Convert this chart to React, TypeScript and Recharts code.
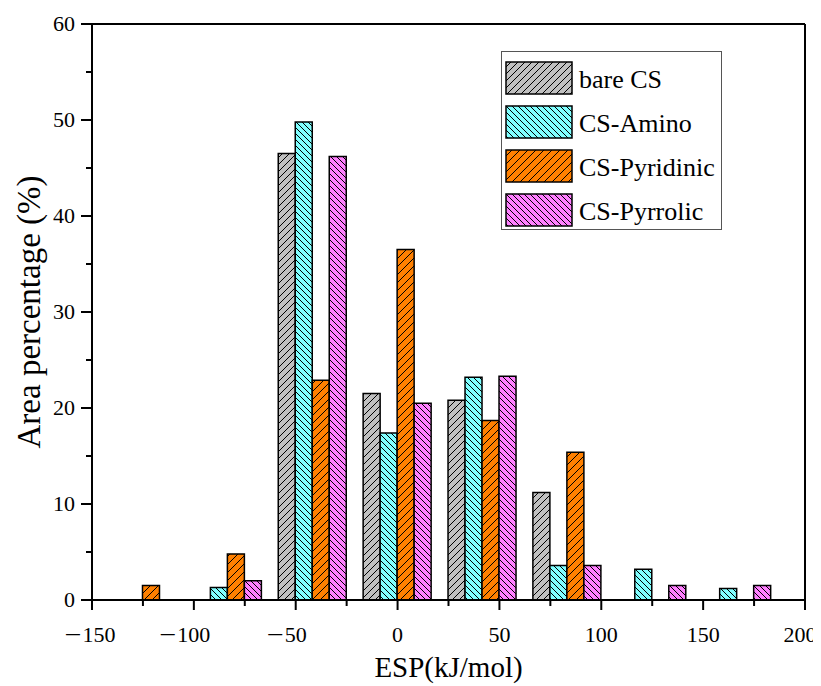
import React from 'react';
import { BarChart, Bar, XAxis, YAxis, ReferenceLine } from 'recharts';

// ESP bin centres (kJ/mol)
const espBins = [-125, -83.33, -41.67, 0, 41.67, 83.33, 125, 166.67];
// Area percentage (%) per series
const bareCS = [0, 0, 46.5, 21.5, 20.8, 11.2, 0, 0];
const csAmino = [0, 1.3, 49.8, 17.4, 23.2, 3.6, 3.2, 1.2];
const csPyridinic = [1.5, 4.8, 22.9, 36.5, 18.7, 15.4, 0, 0];
const csPyrrolic = [0, 2.0, 46.2, 20.5, 23.3, 3.6, 1.5, 1.5];

const seriesNames = ['bare CS', 'CS-Amino', 'CS-Pyridinic', 'CS-Pyrrolic'];
const xTicks = [-150, -125, -100, -75, -50, -25, 0, 25, 50, 75, 100, 125, 150, 175, 200];
const yTicks = [0, 5, 10, 15, 20, 25, 30, 35, 40, 45, 50, 55, 60];

const data = espBins.map((esp, i) => ({
  esp,
  bare: bareCS[i],
  amino: csAmino[i],
  pyridinic: csPyridinic[i],
  pyrrolic: csPyrrolic[i],
}));

const FONT = '"Liberation Serif", "Times New Roman", serif';

const series = [
  { key: 'bare', name: seriesNames[0], fill: '#c0c0c0', pat: 'patGray', dir: 'f', s: 7 },
  { key: 'amino', name: seriesNames[1], fill: '#80ffff', pat: 'patCyan', dir: 'b', s: 6 },
  { key: 'pyridinic', name: seriesNames[2], fill: '#ff8000', pat: 'patOrange', dir: 'f', s: 8 },
  { key: 'pyrrolic', name: seriesNames[3], fill: '#ff80ff', pat: 'patPink', dir: 'b', s: 6 },
];

const XTick = (props: any) => {
  const { x, y, payload } = props;
  const v = payload.value;
  const major = v % 50 === 0;
  const digits = String(Math.abs(v));
  const w = digits.length * 11;
  const cx = v === 200 ? x - 5 : v === -150 ? x + 7 : x;
  return (
    <g>
      <line x1={x} x2={x} y1={y} y2={y + (major ? 10 : 6)} stroke="#000" strokeWidth={2} />
      {major && (
        <text x={cx} y={y + 42} textAnchor="middle" fontSize={22} fontFamily={FONT} fill="#000">
          {digits}
        </text>
      )}
      {major && v < 0 && (
        <text
          x={cx - w / 2 - 18}
          y={y + 42}
          textLength={17}
          lengthAdjust="spacingAndGlyphs"
          fontSize={22}
          fontFamily={FONT}
          fill="#000"
        >
          {'\u2212'}
        </text>
      )}
    </g>
  );
};

const YTick = (props: any) => {
  const { x, y, payload } = props;
  const v = payload.value;
  const major = v % 10 === 0;
  return (
    <g>
      <line x1={x - (major ? 11 : 6)} x2={x} y1={y} y2={y} stroke="#000" strokeWidth={2} />
      {major && (
        <text x={x - 17} y={y + 7} textAnchor="end" fontSize={22} fontFamily={FONT} fill="#000">
          {String(v)}
        </text>
      )}
    </g>
  );
};

const Pattern = ({ id, fill, dir, s }: any) => {
  const d =
    dir === 'f'
      ? `M-1,1 l2,-2 M0,${s} l${s},${-s} M${s - 1},${s + 1} l2,-2`
      : `M-1,${s - 1} l2,2 M0,0 l${s},${s} M${s - 1},-1 l2,2`;
  return (
    <pattern id={id} patternUnits="userSpaceOnUse" width={s} height={s}>
      <rect x={0} y={0} width={s} height={s} fill={fill} />
      <path d={d} stroke="#000" strokeWidth={1} />
    </pattern>
  );
};

const LegendBox = () => (
  <div
    style={{
      position: 'absolute',
      left: 493,
      top: 43,
      width: 221,
      height: 179,
      boxSizing: 'border-box',
      border: '1.5px solid #555',
      background: '#fff',
    }}
  >
    {series.map((s, i) => (
      <div
        key={s.key}
        style={{
          position: 'absolute',
          left: 3,
          top: 9 + i * 44,
          height: 34,
          display: 'flex',
          alignItems: 'center',
        }}
      >
        <svg width={68} height={34} style={{ display: 'block' }}>
          <rect x={1} y={1} width={66} height={32} fill={`url(#${s.pat})`} stroke="#000" strokeWidth={1.5} />
        </svg>
        <span
          style={{
            marginLeft: 6,
            fontFamily: FONT,
            fontSize: 26,
            color: '#000',
            whiteSpace: 'nowrap',
            lineHeight: '34px',
            position: 'relative',
            top: 2,
          }}
        >
          {s.name}
        </span>
      </div>
    ))}
  </div>
);

export default function App() {
  return (
    <div style={{ position: 'relative', width: 813, height: 678, background: '#fff' }}>
      <BarChart
        width={813}
        height={678}
        data={data}
        margin={{ top: 16, right: 16, left: 0, bottom: 0 }}
        barGap={0}
        barSize={17}
      >
        <defs>
          {series.map((s) => (
            <Pattern key={s.pat} id={s.pat} fill={s.fill} dir={s.dir} s={s.s} />
          ))}
        </defs>
        <XAxis
          dataKey="esp"
          type="number"
          domain={[-150, 200]}
          ticks={xTicks}
          interval={0}
          height={86}
          tickSize={0}
          tickMargin={0}
          tickLine={false}
          tick={<XTick />}
          axisLine={{ stroke: '#000', strokeWidth: 2 }}
          allowDataOverflow
          label={{
            content: (p: any) => {
              const vb = p.viewBox || { x: 84, y: 592, width: 713 };
              return (
                <text x={vb.x + vb.width / 2} y={vb.y + 77} textAnchor="middle" fontSize={29} fontFamily={FONT} fill="#000">
                  ESP(kJ/mol)
                </text>
              );
            },
          }}
        />
        <YAxis
          type="number"
          domain={[0, 60]}
          ticks={yTicks}
          interval={0}
          width={84}
          tickSize={0}
          tickMargin={0}
          tickLine={false}
          tick={<YTick />}
          axisLine={{ stroke: '#000', strokeWidth: 2 }}
          allowDataOverflow
          label={{
            content: (p: any) => {
              const vb = p.viewBox || { x: 0, y: 16, width: 84, height: 576 };
              const cx = 21;
              const cy = vb.y + vb.height / 2;
              return (
                <text
                  x={cx}
                  y={cy}
                  transform={`rotate(-90, ${cx}, ${cy})`}
                  textAnchor="middle"
                  dominantBaseline="central"
                  fontSize={33}
                  fontFamily={FONT}
                  fill="#000"
                >
                  Area percentage (%)
                </text>
              );
            },
          }}
        />
        <ReferenceLine y={60} stroke="#000" strokeWidth={2} />
        <ReferenceLine x={200} stroke="#000" strokeWidth={2} />
        {series.map((s) => (
          <Bar
            key={s.key}
            dataKey={s.key}
            name={s.name}
            fill={`url(#${s.pat})`}
            stroke="#000"
            strokeWidth={1.5}
            isAnimationActive={false}
          />
        ))}
      </BarChart>
      <LegendBox />
    </div>
  );
}
